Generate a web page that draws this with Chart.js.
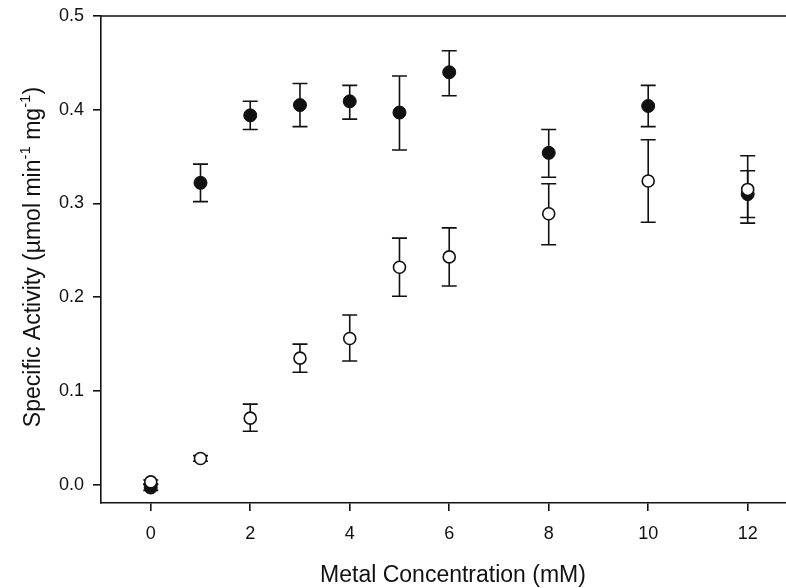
<!DOCTYPE html>
<html>
<head>
<meta charset="utf-8">
<script src="https://cdn.jsdelivr.net/npm/chart.js@4"></script>
<style>
  html, body { margin: 0; padding: 0; background: #fff; overflow: hidden; }
</style>
</head>
<body>
<canvas id="chart" width="786" height="588"></canvas>
<script>
// metal concentration (mM)
const conc = [0, 1, 2, 3, 4, 5, 6, 8, 10, 12];

// filled circles
const filledMean = [-0.003, 0.322, 0.394, 0.405, 0.409, 0.397, 0.440, 0.354, 0.404, 0.310];
const filledLow  = [-0.006, 0.302, 0.379, 0.382, 0.390, 0.357, 0.415, 0.328, 0.382, 0.285];
const filledHigh = [ 0.000, 0.342, 0.409, 0.428, 0.426, 0.436, 0.463, 0.379, 0.426, 0.335];

// open circles
const openMean = [0.003, 0.028, 0.071, 0.135, 0.156, 0.232, 0.243, 0.289, 0.324, 0.315];
const openLow  = [0.001, 0.025, 0.057, 0.120, 0.132, 0.201, 0.212, 0.256, 0.280, 0.279];
const openHigh = [0.005, 0.031, 0.086, 0.150, 0.181, 0.263, 0.274, 0.321, 0.368, 0.351];

const xTicks = [0, 2, 4, 6, 8, 10, 12];
const yTicks = [0.0, 0.1, 0.2, 0.3, 0.4, 0.5];

const INK = '#111';
const FONT = '"Liberation Sans", Arial, sans-serif';

function points(ys) {
  return conc.map((x, i) => ({ x: x, y: ys[i] }));
}

const errorBars = {
  id: 'errorBars',
  beforeDatasetsDraw(chart) {
    const ctx = chart.ctx;
    const xs = chart.scales.x, ys = chart.scales.y;
    const sets = [[filledLow, filledHigh], [openLow, openHigh]];
    ctx.save();
    ctx.strokeStyle = INK;
    ctx.lineWidth = 1.6;
    sets.forEach(([lo, hi]) => {
      conc.forEach((c, i) => {
        const px = xs.getPixelForValue(c);
        const y1 = ys.getPixelForValue(lo[i]);
        const y2 = ys.getPixelForValue(hi[i]);
        ctx.beginPath();
        ctx.moveTo(px, y1); ctx.lineTo(px, y2);
        ctx.moveTo(px - 7.5, y1); ctx.lineTo(px + 7.5, y1);
        ctx.moveTo(px - 7.5, y2); ctx.lineTo(px + 7.5, y2);
        ctx.stroke();
      });
    });
    ctx.restore();
  },
  afterDraw(chart) {
    const ctx = chart.ctx;
    const a = chart.chartArea;
    ctx.save();
    // top frame line
    ctx.strokeStyle = INK;
    ctx.lineWidth = 1.6;
    ctx.beginPath();
    ctx.moveTo(a.left, a.top);
    ctx.lineTo(a.right, a.top);
    ctx.stroke();

    ctx.fillStyle = INK;
    // x title
    ctx.font = '23px ' + FONT;
    ctx.textAlign = 'center';
    ctx.textBaseline = 'alphabetic';
    ctx.fillText('Metal Concentration (mM)', 453, 582);

    // y title with superscripts
    const parts = [
      ['Specific Activity (\u00b5mol min', false],
      ['-1', true],
      [' mg', false],
      ['-1', true],
      [')', false]
    ];
    const mainFont = '23px ' + FONT, supFont = '15px ' + FONT;
    let total = 0;
    parts.forEach(p => { ctx.font = p[1] ? supFont : mainFont; total += ctx.measureText(p[0]).width; });
    ctx.translate(40, 257);
    ctx.rotate(-Math.PI / 2);
    ctx.textAlign = 'left';
    let cx = -total / 2;
    parts.forEach(p => {
      ctx.font = p[1] ? supFont : mainFont;
      ctx.fillText(p[0], cx, p[1] ? -10 : 0);
      cx += ctx.measureText(p[0]).width;
    });
    ctx.restore();
  }
};

new Chart(document.getElementById('chart'), {
  type: 'scatter',
  data: {
    datasets: [
      {
        label: 'filled',
        data: points(filledMean),
        order: 2,
        pointRadius: 6.5,
        pointHoverRadius: 6.5,
        pointBackgroundColor: INK,
        pointBorderColor: INK,
        pointBorderWidth: 1
      },
      {
        label: 'open',
        data: points(openMean),
        order: 1,
        pointRadius: 6,
        pointHoverRadius: 6,
        pointBackgroundColor: '#fff',
        pointBorderColor: INK,
        pointBorderWidth: 1.6
      }
    ]
  },
  options: {
    responsive: false,
    animation: false,
    layout: { autoPadding: false, padding: { top: 16, right: 0, left: 0, bottom: 0 } },
    plugins: {
      legend: { display: false },
      tooltip: { enabled: false }
    },
    scales: {
      x: {
        type: 'linear',
        min: -1,
        max: 12.77,
        afterBuildTicks: axis => { axis.ticks = xTicks.map(v => ({ value: v })); },
        afterFit: axis => { axis.height = 85; axis.paddingLeft = 0; axis.paddingRight = 0; },
        border: { display: true, color: INK, width: 1.6 },
        grid: { drawOnChartArea: false, drawTicks: true, tickLength: 8, color: INK, lineWidth: 1.6 },
        ticks: {
          color: INK,
          padding: 12,
          maxRotation: 0,
          font: { family: FONT, size: 18 }
        }
      },
      y: {
        type: 'linear',
        min: -0.0195,
        max: 0.5,
        afterBuildTicks: axis => { axis.ticks = yTicks.map(v => ({ value: v })); },
        afterFit: axis => { axis.width = 101; axis.paddingTop = 0; axis.paddingBottom = 0; },
        border: { display: true, color: INK, width: 1.6 },
        grid: { drawOnChartArea: false, drawTicks: true, tickLength: 8, color: INK, lineWidth: 1.6 },
        ticks: {
          color: INK,
          padding: 9,
          font: { family: FONT, size: 18 },
          callback: v => v.toFixed(1)
        }
      }
    }
  },
  plugins: [errorBars]
});
</script>
</body>
</html>
